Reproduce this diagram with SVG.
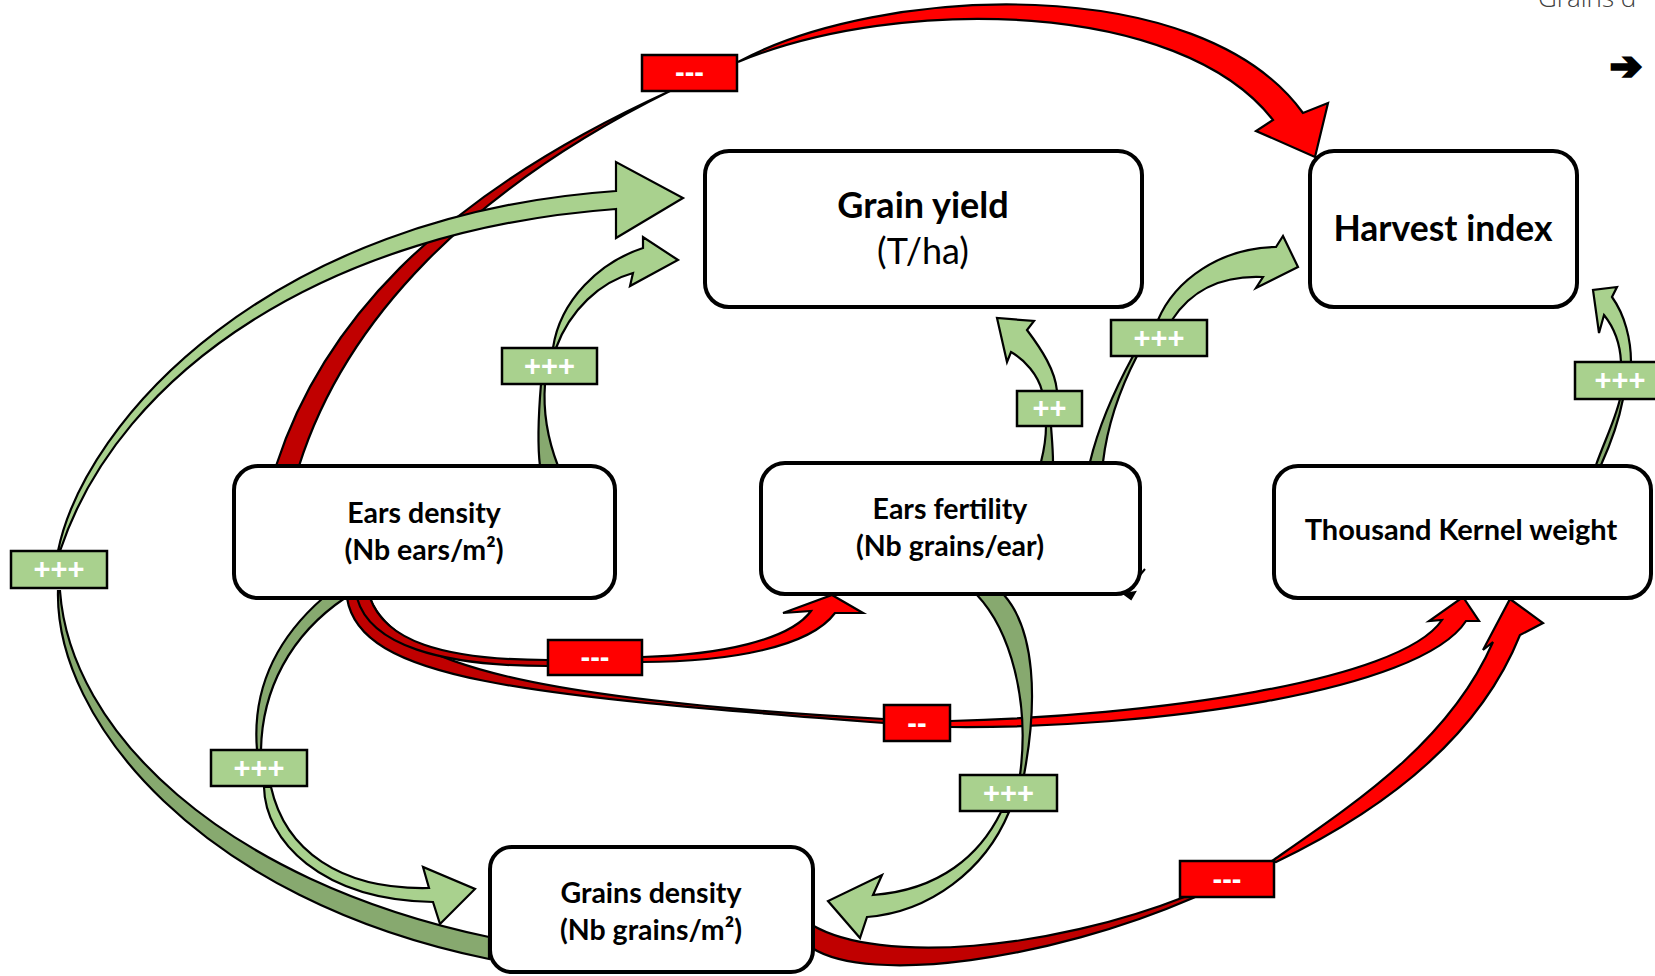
<svg xmlns="http://www.w3.org/2000/svg" width="1655" height="976" viewBox="0 0 1655 976">
<defs>
<style>
.node rect{fill:#fff;stroke:#000;stroke-width:4}
.nt{font-family:Lato,"Liberation Sans",sans-serif;font-weight:bold;fill:#000;text-anchor:middle}
.conn path{stroke:#000;stroke-width:2.2;stroke-linejoin:miter}
.lg{fill:#A9D18E}
.dg{fill:#87A96F}
.lr{fill:#FF0000}
.dr{fill:#C00000}
.lbl rect{stroke:#000;stroke-width:2.5}
.lbl text{font-family:"Liberation Sans",Arial,sans-serif;font-weight:bold;font-size:29px;fill:#fff;text-anchor:middle}
</style>
</defs>
<rect width="1655" height="976" fill="#fff"/>
<text x="1538" y="7" font-family="'Open Sans',sans-serif" font-weight="300" font-size="26" fill="#404040">Grains d</text>
<text x="1610" y="79" font-family="'DejaVu Sans',sans-serif" font-weight="bold" font-size="38" fill="#000" stroke="#000" stroke-width="3" stroke-linejoin="miter">➔</text>

<g id="connectors" class="conn">
<path class="dr" d="M276,466 C320,330 430,200 670,91 C470,190 345,320 299,466 Z"/>
<path class="lr" d="M738,62 C880,-15 1200,-30 1303,113 L1328,103 L1315,157 L1256,131 L1273,120 C1180,0 900,-5 738,62 Z"/>
<path class="dg" d="M58,591 C55,720 200,900 489,959 L489,937 C220,880 70,730 60,591 Z"/>
<path class="lg" d="M58,551 C85,420 270,215 616,191 L616,162 L683,198 L616,238 L616,209 C330,230 120,370 60,551 Z"/>
<path class="dg" d="M541,384 C538,420 538,450 540,466 L558,466 C548,440 543,410 545,384 Z"/>
<path class="lg" d="M553,348 C560,300 600,262 643,248 L643,237 L678,260 L630,286 L633,273 C600,282 570,310 556,348 Z"/>
<path class="dg" d="M1041,462 C1044,450 1046,440 1046,426 L1051,426 C1052,440 1053,450 1053,462 Z"/>
<path class="lg" d="M1042,391 C1038,375 1025,360 1011,352 L1007,362 L997,318 L1034,321 L1027,330 C1042,350 1055,370 1057,391 Z"/>
<path class="dg" d="M1133,356 C1120,380 1100,420 1090,462 L1103,462 C1108,420 1122,385 1137,356 Z"/>
<path class="lg" d="M1158,320 C1175,280 1220,248 1276,247 L1283,236 L1298,267 L1256,288 L1263,277 C1220,275 1190,292 1172,320 Z"/>
<path class="dg" d="M1596,465 C1605,440 1615,420 1620,399 L1623,399 C1619,420 1610,445 1601,465 Z"/>
<path class="lg" d="M1621,362 C1620,340 1612,325 1604,315 L1599,333 L1593,290 L1617,287 L1612,297 C1625,315 1631,340 1631,362 Z"/>
<path class="dr" d="M347,598 C360,680 520,695 884,723 L884,719 C540,700 395,665 370,598 Z"/>
<path class="lr" d="M950,721 C1150,716 1400,682 1442,620 L1429,621 L1463,597 L1479,621 L1466,621 C1420,692 1150,729 950,727 Z"/>
<path class="dr" d="M370,598 C385,640 440,660 548,660 L548,666 C440,666 370,645 357,598 Z"/>
<path class="lr" d="M642,657 C720,655 790,640 811,611 L783,613 L832,595 L863,613 L835,613 C810,647 730,662 642,662 Z"/>
<path class="dg" d="M323,598 C275,640 252,690 257,750 L261,750 C262,690 290,635 345,598 Z"/>
<path class="lg" d="M264,787 C265,840 320,900 433,902 L440,924 L475,889 L423,867 L429,888 C340,890 285,850 271,787 Z"/>
<path class="dg" d="M977,595 C1010,630 1030,700 1020,775 L1024,775 C1038,700 1035,630 1004,595 Z"/>
<path class="lg" d="M1001,812 C980,855 940,890 873,895 L882,875 L828,901 L860,938 L867,917 C930,912 985,870 1009,812 Z"/>
<path class="dr" d="M812,948 C870,985 1050,960 1193,898 L1187,896 C1050,950 880,965 812,925 Z"/>
<path class="lr" d="M1272,861 C1360,800 1450,740 1493,642 L1483,650 L1510,599 L1543,623 L1520,635 C1478,740 1380,812 1276,862 Z"/>
</g>

<g id="labels" class="lbl">
<g id="lbl-ed-hi"><rect class="lr" x="642" y="55" width="95" height="36"/><text x="689.5" y="82">---</text></g>
<g id="lbl-gd-gy"><rect class="lg" x="11" y="551" width="96" height="37"/><text x="59" y="579">+++</text></g>
<g id="lbl-ed-gy"><rect class="lg" x="502" y="348" width="95" height="36"/><text x="549.5" y="376">+++</text></g>
<g id="lbl-ef-gy"><rect class="lg" x="1017" y="391" width="65" height="35"/><text x="1049.5" y="418">++</text></g>
<g id="lbl-ef-hi"><rect class="lg" x="1111" y="320" width="96" height="36"/><text x="1159" y="348">+++</text></g>
<g id="lbl-tkw-hi"><rect class="lg" x="1575" y="362" width="90" height="37"/><text x="1620" y="390">+++</text></g>
<g id="lbl-ed-ef"><rect class="lr" x="548" y="640" width="94" height="35"/><text x="595" y="667">---</text></g>
<g id="lbl-ed-tkw"><rect class="lr" x="884" y="705" width="66" height="36"/><text x="917" y="733">--</text></g>
<g id="lbl-ed-gd"><rect class="lg" x="211" y="750" width="96" height="36"/><text x="259" y="778">+++</text></g>
<g id="lbl-ef-gd"><rect class="lg" x="960" y="775" width="97" height="36"/><text x="1008.5" y="803">+++</text></g>
<g id="lbl-gd-tkw"><rect class="lr" x="1180" y="861" width="94" height="36"/><text x="1227" y="889">---</text></g>
</g>

<g id="node-grain-yield" class="node">
<rect x="705" y="151" width="437" height="156" rx="24"/>
<text class="nt" x="923" y="218" font-size="36">Grain yield</text>
<text class="nt" x="923" y="264" font-size="36" style="font-weight:normal">(T/ha)</text>
</g>
<g id="node-harvest-index" class="node">
<rect x="1310" y="151" width="267" height="156" rx="24"/>
<text class="nt" x="1443" y="241" font-size="35.5">Harvest index</text>
</g>
<g id="node-ears-density" class="node">
<rect x="234" y="466" width="381" height="132" rx="24"/>
<text class="nt" x="424" y="523" font-size="28.5">Ears density</text>
<text class="nt" x="424" y="560" font-size="28.5">(Nb ears/m²)</text>
</g>
<g id="node-ears-fertility" class="node">
<rect x="761" y="463" width="379" height="131" rx="24"/>
<text class="nt" x="950" y="519" font-size="28.5">Ears fertility</text>
<text class="nt" x="950" y="556" font-size="28.5">(Nb grains/ear)</text>
<path d="M1124,594 L1131,599 L1135,592 Z M1140,575 L1145,569" stroke="#000" stroke-width="2" fill="#000"/>
</g>
<g id="node-tkw" class="node">
<rect x="1274" y="466" width="377" height="132" rx="24"/>
<text class="nt" x="1461" y="540" font-size="29">Thousand Kernel weight</text>
</g>
<g id="node-grains-density" class="node">
<rect x="490" y="847" width="323" height="125" rx="22"/>
<text class="nt" x="651" y="903" font-size="28.5">Grains density</text>
<text class="nt" x="651" y="940" font-size="28.5">(Nb grains/m²)</text>
</g>
</svg>
